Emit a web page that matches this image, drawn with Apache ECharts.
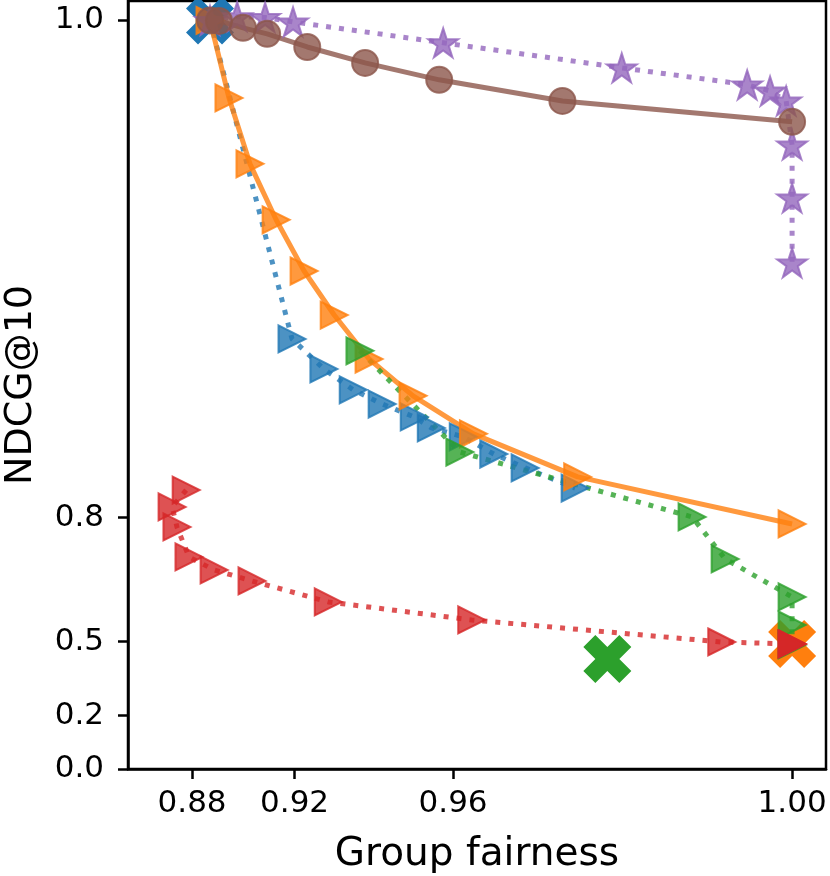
<!DOCTYPE html>
<html><head><meta charset="utf-8">
<script src="https://cdn.jsdelivr.net/npm/echarts@6/dist/echarts.min.js"></script>
<style>html,body{margin:0;padding:0;background:#fff}#c{width:830px;height:876px}</style>
</head><body><div id="c"></div>
<script>
// ---- tick labels ----
const xTickValues = [0.88, 0.92, 0.96, 1.00];
const xTickLabels = ['0.88', '0.92', '0.96', '1.00'];
const yTickValues = [0.0, 0.2, 0.5, 0.8, 1.0];
const yTickLabels = ['0.0', '0.2', '0.5', '0.8', '1.0'];
const xRange = [0.855, 1.004];
const yRange = [0.0, 1.0078];

// ---- data: [group fairness, NDCG@10] ----
const blueBaseline = [[0.887, 1.0]];
const orangeBaseline = [[1.0, 0.4906]];
const greenBaseline = [[0.9782, 0.4298]];

const blueSeries = [[0.887, 1.0], [0.919, 0.8719], [0.9274, 0.8598], [0.9348, 0.8514], [0.9421, 0.8457],
  [0.9502, 0.8405], [0.9545, 0.8361], [0.9612, 0.8325], [0.9648, 0.8256], [0.9685, 0.8200], [0.9744, 0.8119]];
const orangeSeries = [[0.887, 1.0], [0.8944, 0.9688], [0.9026, 0.9423], [0.9128, 0.9198], [0.9224, 0.8992],
  [0.93, 0.8815], [0.9388, 0.8638], [0.9499, 0.8490], [0.9624, 0.8337], [0.9747, 0.8164], [1.0, 0.7848]];
const greenSeries = [[0.9365, 0.8671], [0.9608, 0.8264], [0.9882, 0.8003], [0.9921, 0.7001], [1.0, 0.6082],
  [1.0, 0.5404], [1.0, 0.4866]];
const redSeries = [[0.8777, 0.8111], [0.8722, 0.8043], [0.8741, 0.7775], [0.8788, 0.7049], [0.8886, 0.6735],
  [0.9034, 0.6469], [0.9285, 0.5961], [0.9622, 0.5525], [0.9917, 0.4987], [1.0, 0.4906], [1.0, 0.4906], [1.0, 0.4906]];
const purpleSeries = [[0.887, 1.0], [0.8976, 1.0015], [0.9085, 1.0012], [0.9194, 0.9994], [0.9575, 0.991],
  [0.9799, 0.9809], [0.9947, 0.9741], [0.9974, 0.9716], [0.9993, 0.9676], [1.0, 0.9499], [1.0, 0.9286], [1.0, 0.9025]];
const brownSeries = [[0.887, 1.0], [0.8905, 0.9998], [0.8999, 0.997], [0.9093, 0.9946], [0.9232, 0.9893],
  [0.9378, 0.9829], [0.9565, 0.9761], [0.9729, 0.9676], [1.0, 0.9592]];

// ---- piecewise-linear axis warp (the chart's non-uniform scales) ----
const xScaleKnots = [0.88, 0.92, 0.96, 1.00];
const xScaleUnits = [0, 102.5, 261, 600];
const yScaleKnots = [0.0, 0.2, 0.5, 0.8, 1.0];
const yScaleUnits = [0, 53.3, 127.3, 251.3, 748.5];
function warp(v, k, u) {
  let i = 0;
  if (v <= k[0]) i = 0;
  else if (v >= k[k.length - 1]) i = k.length - 2;
  else { while (v > k[i + 1]) i++; }
  return u[i] + (v - k[i]) * (u[i + 1] - u[i]) / (k[i + 1] - k[i]);
}
const wx = v => warp(v, xScaleKnots, xScaleUnits);
const wy = v => warp(v, yScaleKnots, yScaleUnits);
const pts = arr => arr.map(p => [wx(p[0]), wy(p[1])]);

function labelFor(val, ticks, labels, w) {
  let best = 0, bd = Infinity;
  ticks.forEach((t, i) => { const d = Math.abs(w(t) - val); if (d < bd) { bd = d; best = i; } });
  return labels[best];
}

// ---- marker shapes ----
const TRI = 'path://M0,0L2,1L0,2Z';
const XMK = 'path://M1,0L2,1L3,0L4,1L3,2L4,3L3,4L2,3L1,4L0,3L1,2L0,1Z';
const STAR = (function () {
  let s = 'path://';
  for (let i = 0; i < 10; i++) {
    const r = i % 2 === 0 ? 1 : 0.381966;
    const a = -Math.PI / 2 + i * Math.PI / 5;
    s += (i === 0 ? 'M' : 'L') + (r * Math.cos(a)).toFixed(4) + ',' + (r * Math.sin(a)).toFixed(4);
  }
  return s + 'Z';
})();

const C = { blue: '#1f77b4', orange: '#ff7f0e', green: '#2ca02c', red: '#d62728', purple: '#9467bd', brown: '#8c564b' };
const DOT = [5, 8];

function lineSeries(name, data, color, symbol, size, dashed) {
  return {
    name, type: 'line', data: pts(data), symbol, symbolSize: size, showSymbol: true, showAllSymbol: true,
    smooth: false, clip: false, silent: true, animation: false,
    lineStyle: { color, width: 5, opacity: 0.8, type: dashed ? DOT : 'solid', cap: 'butt' },
    itemStyle: { color, borderColor: color, borderWidth: 2, opacity: 0.8 }
  };
}
function baseline(name, data, color) {
  return {
    name, type: 'scatter', data: pts(data), symbol: XMK, symbolSize: 48, silent: true, animation: false,
    itemStyle: { color, opacity: 1 }
  };
}

const FONT = 'DejaVu Sans';
const chart = echarts.init(document.getElementById('c'), null, { renderer: 'canvas' });
chart.setOption({
  animation: false,
  backgroundColor: '#fff',
  grid: { left: 128, right: 4, top: 1, bottom: 107, containLabel: false, outerBoundsMode: 'none',
    show: true, borderColor: '#000', borderWidth: 2.5, backgroundColor: 'transparent' },
  xAxis: {
    type: 'value', min: wx(xRange[0]), max: wx(xRange[1]),
    axisLine: { show: true, onZero: false, lineStyle: { color: '#000', width: 2.5 } },
    axisTick: { show: true, customValues: xTickValues.map(wx), length: 10, lineStyle: { color: '#000', width: 2.5 } },
    axisLabel: { show: true, customValues: xTickValues.map(wx), fontSize: 31, fontFamily: FONT, color: '#000', margin: 19,
      formatter: v => labelFor(v, xTickValues, xTickLabels, wx) },
    splitLine: { show: false },
    name: 'Group fairness', nameLocation: 'middle', nameGap: 66,
    nameTextStyle: { fontSize: 39, fontFamily: FONT, color: '#000' }
  },
  yAxis: {
    type: 'value', min: wy(yRange[0]), max: wy(yRange[1]),
    axisLine: { show: true, onZero: false, lineStyle: { color: '#000', width: 2.5 } },
    axisTick: { show: true, customValues: yTickValues.map(wy), length: 10, lineStyle: { color: '#000', width: 2.5 } },
    axisLabel: { show: true, customValues: yTickValues.map(wy), fontSize: 31, fontFamily: FONT, color: '#000', margin: 24,
      formatter: v => labelFor(v, yTickValues, yTickLabels, wy) },
    splitLine: { show: false },
    name: 'NDCG@10', nameLocation: 'middle', nameGap: 88,
    nameTextStyle: { fontSize: 38, fontFamily: FONT, color: '#000' }
  },
  series: [
    baseline('Blue baseline', blueBaseline, C.blue),
    baseline('Orange baseline', orangeBaseline, C.orange),
    baseline('Green baseline', greenBaseline, C.green),
    lineSeries('Blue', blueSeries, C.blue, TRI, 27, true),
    lineSeries('Orange', orangeSeries, C.orange, TRI, 27, false),
    lineSeries('Green', greenSeries, C.green, TRI, 27, true),
    lineSeries('Red', redSeries, C.red, TRI, 27, true),
    lineSeries('Purple', purpleSeries, C.purple, STAR, [30, 29], true),
    lineSeries('Brown', brownSeries, C.brown, 'circle', 26, false)
  ]
});
</script></body></html>
